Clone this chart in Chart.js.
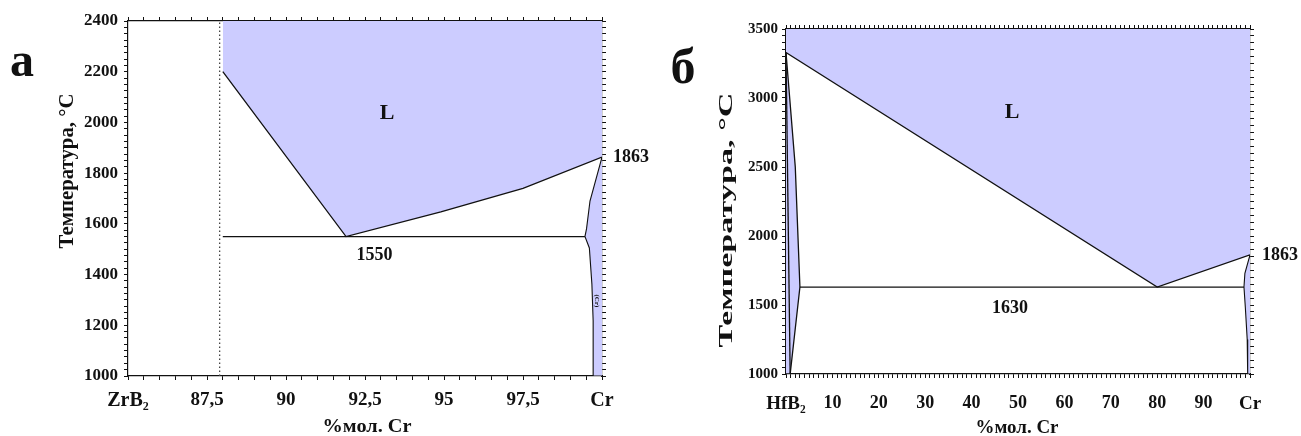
<!DOCTYPE html>
<html>
<head>
<meta charset="utf-8">
<script src="https://cdn.jsdelivr.net/npm/chart.js@4.4.1/dist/chart.umd.min.js"></script>
<style>
  html, body { margin: 0; padding: 0; background: #fff; }
  #wrap { position: relative; width: 1301px; height: 436px; overflow: hidden; }
  canvas { position: absolute; top: 0; }
  #chartZr { left: 0; }
  #chartHf { left: 650px; }
</style>
</head>
<body>
<div id="wrap">
  <canvas id="chartZr" width="650" height="436"></canvas>
  <canvas id="chartHf" width="651" height="436"></canvas>
</div>
<script>
const FONT = "'Liberation Serif', 'Times New Roman', serif";
const LAV = '#ccccff';
const INK = '#111111';

// а) ZrB2 - Cr
const zrTickVals = [85, 87.5, 90, 92.5, 95, 97.5, 100];
const zrTickLabels = ['ZrB₂', '87,5', '90', '92,5', '95', '97,5', 'Cr'];
const zrTempTicks = [1000, 1200, 1400, 1600, 1800, 2000, 2200, 2400];
const zrLiquidus = [[88.0, 2200], [91.9, 1550], [94.9, 1647], [97.5, 1740], [100, 1863]];
const zrEutectic = [[88.0, 1550], [99.46, 1550]];
const zrCrPhase = [[100, 1863], [99.62, 1690], [99.51, 1580], [99.46, 1550], [99.6, 1505],
                   [99.68, 1363], [99.72, 1217], [99.72, 1000], [100, 1000]];
const zrBoundary = [[87.9, 1000], [87.9, 2400]];

// б) HfB2 - Cr
const hfTickVals = [0, 10, 20, 30, 40, 50, 60, 70, 80, 90, 100];
const hfTickLabels = ['HfB₂', '10', '20', '30', '40', '50', '60', '70', '80', '90', 'Cr'];
const hfTempTicks = [1000, 1500, 2000, 2500, 3000, 3500];
const hfLiquidus = [[0, 3330], [80, 1630], [100, 1863]];
const hfEutectic = [[3.0, 1630], [98.7, 1630]];
const hfSolidOuter = [[0, 3330], [2.0, 2500], [3.0, 1630], [0.9, 1000], [0, 1000]];
const hfSolidInner = [[0, 3330], [0.9, 1000]];
const hfCrPhase = [[100, 1863], [98.9, 1730], [98.7, 1630], [99.0, 1480], [99.4, 1250], [99.5, 1000], [100, 1000]];

const pts = a => a.map(([x, y]) => ({ x, y }));

const makeTicks = (min, max, step) => {
    const t = [];
    const n = Math.round((max - min) / step);
    for (let i = 0; i <= n; i++) t.push({ value: +(min + i * step).toFixed(4) });
    return t;
};

const labelFor = (vals, labels) => value => {
    const i = vals.findIndex(v => Math.abs(v - value) < 1e-6);
    return i < 0 ? '' : labels[i];
};

const textPlugin = {
    id: 'phaseText',
    afterDraw(chart, args, opts) {
        const { ctx } = chart;
        const sx = chart.scales.x, sy = chart.scales.y;
        opts.items.forEach(t => {
            const px = t.px !== undefined ? t.px : sx.getPixelForValue(t.x);
            const py = t.py !== undefined ? t.py : sy.getPixelForValue(t.y);
            ctx.save();
            ctx.font = `bold ${t.size}px ${FONT}`;
            ctx.fillStyle = INK;
            ctx.textAlign = t.align || 'center';
            ctx.textBaseline = t.baseline || 'middle';
            ctx.translate(px, py);
            if (t.rot) ctx.rotate(t.rot);
            if (t.width) ctx.scale(t.width / ctx.measureText(t.text).width, 1);
            ctx.fillText(t.text, 0, 0);
            ctx.restore();
        });
    }
};

const lineSet = (data, opts) => Object.assign({
    data: pts(data), borderColor: INK, borderWidth: 1.3, fill: false, pointRadius: 0
}, opts || {});

const buildChart = (canvasId, cfg) => {
    const ctx = document.getElementById(canvasId).getContext('2d');
    const grid = { drawOnChartArea: false, color: INK, tickColor: INK, tickLength: 4, tickWidth: 1 };
    const border = { color: INK, width: 1.2 };
    const xTicks = s => { s.ticks = makeTicks(cfg.xMin, cfg.xMax, cfg.xStep); };
    const yTicks = s => { s.ticks = makeTicks(cfg.yMin, cfg.yMax, cfg.yStep); };
    return new Chart(ctx, {
        type: 'line',
        data: { datasets: cfg.datasets },
        options: {
            responsive: false,
            animation: false,
            devicePixelRatio: 1,
            layout: { padding: cfg.padding },
            elements: { line: { tension: 0 }, point: { radius: 0 } },
            plugins: {
                legend: { display: false },
                tooltip: { enabled: false },
                filler: { drawTime: 'beforeDatasetsDraw' },
                phaseText: { items: cfg.texts }
            },
            scales: {
                x: {
                    type: 'linear', position: 'bottom', min: cfg.xMin, max: cfg.xMax,
                    afterBuildTicks: xTicks,
                    afterFit: s => { s.height = 40; },
                    grid, border,
                    ticks: {
                        autoSkip: false, maxRotation: 0, minRotation: 0,
                        padding: cfg.xPad, color: INK,
                        font: c => ({
                            family: FONT, weight: 'bold',
                            size: (c.tick && (c.tick.value === cfg.xMin || c.tick.value === cfg.xMax)) ? cfg.xFont + 1 : cfg.xFont
                        }),
                        callback: labelFor(cfg.xVals, cfg.xLabels)
                    }
                },
                x2: {
                    type: 'linear', position: 'top', min: cfg.xMin, max: cfg.xMax,
                    afterBuildTicks: xTicks,
                    afterFit: s => { s.height = 6; },
                    grid, border,
                    ticks: { display: false, autoSkip: false }
                },
                y: {
                    type: 'linear', position: 'left', min: cfg.yMin, max: cfg.yMax,
                    afterBuildTicks: yTicks,
                    afterFit: s => { s.width = 60; },
                    grid, border,
                    ticks: {
                        autoSkip: false, padding: cfg.yPad, color: INK,
                        font: { family: FONT, weight: 'bold', size: cfg.yFont },
                        callback: labelFor(cfg.yVals, cfg.yVals.map(String))
                    }
                },
                y2: {
                    type: 'linear', position: 'right', min: cfg.yMin, max: cfg.yMax,
                    afterBuildTicks: yTicks,
                    afterFit: s => { s.width = 8; },
                    grid, border,
                    ticks: { display: false, autoSkip: false }
                }
            }
        },
        plugins: [textPlugin]
    });
};

const chartZr = buildChart('chartZr', {
    xMin: 85, xMax: 100, xStep: 0.5, xVals: zrTickVals, xLabels: zrTickLabels, xPad: 9, xFont: 19,
    yMin: 1000, yMax: 2400, yStep: 25, yVals: zrTempTicks, yPad: 6, yFont: 17,
    padding: { left: 68, right: 40, top: 15, bottom: 20 },
    datasets: [
        lineSet(zrLiquidus, { fill: 'end', backgroundColor: LAV }),
        lineSet(zrCrPhase, { fill: 'shape', backgroundColor: LAV, borderWidth: 1.1 }),
        lineSet(zrEutectic),
        lineSet(zrBoundary, { borderDash: [1.5, 2.5], borderColor: '#444', borderWidth: 1.3 })
    ],
    texts: [
        { text: 'L', x: 93.2, y: 2037, size: 22 },
        { text: '1550', x: 92.8, y: 1477, size: 18 },
        { text: '1863', x: 100.35, y: 1863, size: 18, align: 'left' },
        { text: '(Cr)', x: 99.83, y: 1296, size: 7, rot: Math.PI / 2 },
        { text: 'а', px: 22, py: 76, size: 48, baseline: 'alphabetic' },
        { text: 'Температура, °C', px: 68, py: 171, size: 20, rot: -Math.PI / 2, width: 155 },
        { text: '%мол. Cr', px: 367, py: 427, size: 18, width: 89 }
    ]
});

const chartHf = buildChart('chartHf', {
    xMin: 0, xMax: 100, xStep: 1, xVals: hfTickVals, xLabels: hfTickLabels, xPad: 15, xFont: 18,
    yMin: 1000, yMax: 3500, yStep: 50, yVals: hfTempTicks, yPad: 4, yFont: 15,
    padding: { left: 76, right: 43, top: 23, bottom: 22 },
    datasets: [
        lineSet(hfLiquidus, { fill: 'end', backgroundColor: LAV }),
        lineSet(hfSolidOuter, { fill: 'shape', backgroundColor: LAV }),
        lineSet(hfSolidInner),
        lineSet(hfCrPhase, { fill: 'shape', backgroundColor: LAV, borderWidth: 1.1 }),
        lineSet(hfEutectic)
    ],
    texts: [
        { text: 'L', x: 48.7, y: 2898, size: 22 },
        { text: '1630', x: 48.3, y: 1478, size: 18 },
        { text: '1863', x: 102.6, y: 1863, size: 18, align: 'left' },
        { text: 'б', px: 33, py: 83, size: 50, baseline: 'alphabetic' },
        { text: 'Температура, °C', px: 77, py: 220, size: 19, rot: -Math.PI / 2, width: 255 },
        { text: '%мол. Cr', px: 367, py: 428, size: 18, width: 83 }
    ]
});
</script>
</body>
</html>
